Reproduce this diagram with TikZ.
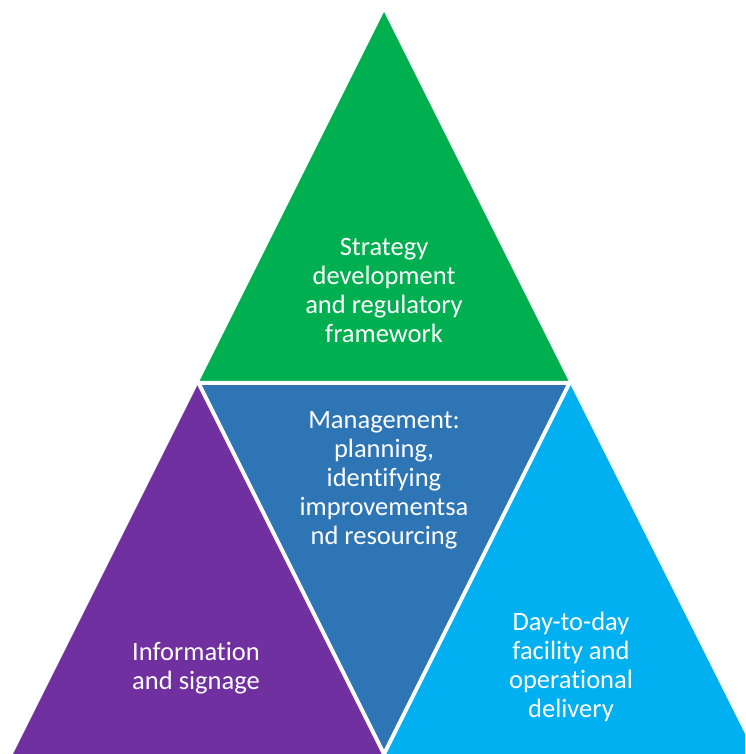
\documentclass[tikz,border=0pt]{standalone}
\usepackage{fontspec}
\setmainfont{Carlito}[Ligatures=NoCommon]
\definecolor{topgreen}{HTML}{00B050}
\definecolor{leftpurple}{HTML}{7030A0}
\definecolor{midblue}{HTML}{2E75B6}
\definecolor{rightblue}{HTML}{00B0F0}
\tikzset{
  lbl/.style={text=white, align=center, font=\fontsize{26.5}{29}\selectfont, inner sep=0pt}
}
\begin{document}
\begin{tikzpicture}[x=1pt,y=1pt]
	\useasboundingbox (0,0) rectangle (745,754);
	\clip (0,0) rectangle (745,754);
	\coordinate (apex) at (384,742);
	\coordinate (bl) at (13,0);
	\coordinate (br) at (755,0);
	\coordinate (ml) at (198.5,371);
	\coordinate (mr) at (569.5,371);
	\coordinate (mb) at (384,0);
	\fill[topgreen] (apex) -- (ml) -- (mr) -- cycle;
	\fill[leftpurple] (ml) -- (bl) -- (mb) -- cycle;
	\fill[rightblue] (mr) -- (mb) -- (br) -- cycle;
	\fill[midblue] (ml) -- (mr) -- (mb) -- cycle;
	\draw[white, line width=4pt, line join=round] (ml) -- (mr) -- (mb) -- cycle;
	\node[lbl] at (384,463) (strategy) {Strategy\\development\\and regulatory\\framework};
	\node[lbl] at (384,274) (management) {Management:\\planning,\\identifying\\improvementsa\\nd resourcing};
	\node[lbl] at (196,86) (information) {Information\\and signage};
	\node[lbl] at (571,87) (daytoday) {Day-to-day\\facility and\\operational\\delivery};
\end{tikzpicture}
\end{document}
